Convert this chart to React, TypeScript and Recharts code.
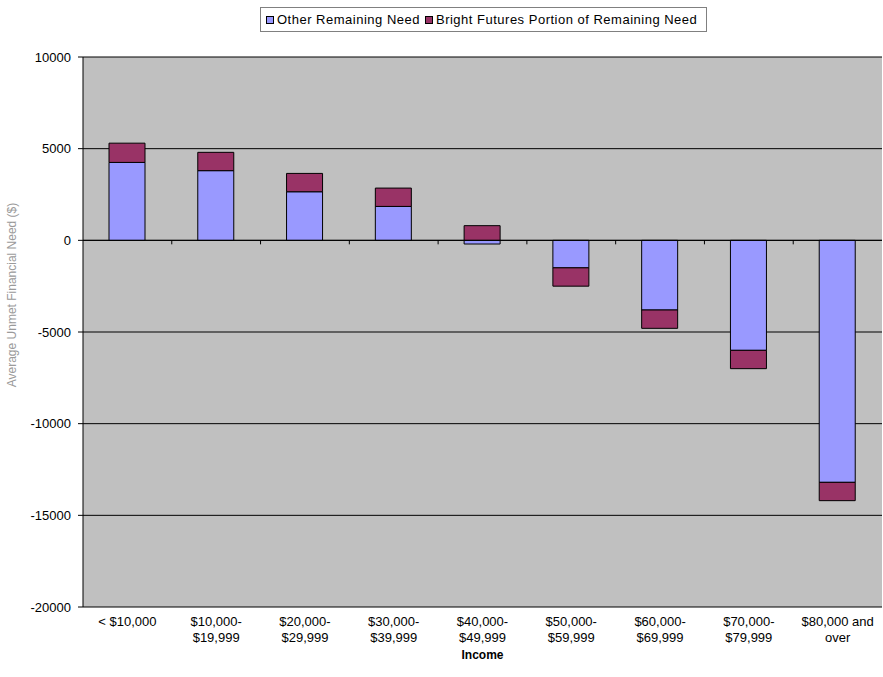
import React from "react";
import {
  BarChart,
  Bar,
  XAxis,
  YAxis,
  CartesianGrid,
  ReferenceLine,
} from "recharts";

const incomeBands = [
  "< $10,000",
  "$10,000-\n$19,999",
  "$20,000-\n$29,999",
  "$30,000-\n$39,999",
  "$40,000-\n$49,999",
  "$50,000-\n$59,999",
  "$60,000-\n$69,999",
  "$70,000-\n$79,999",
  "$80,000 and\nover",
];
const otherNeed = [4250, 3800, 2650, 1850, -200, -1500, -3800, -6000, -13200];
const brightFutures = [1050, 1000, 1000, 1000, 800, -1000, -1000, -1000, -1000];
const yTicks = [-20000, -15000, -10000, -5000, 0, 5000, 10000];

const data = incomeBands.map((band, i) => ({
  band,
  other: otherNeed[i],
  bright: brightFutures[i],
}));

const FONT = "'Liberation Sans', Arial, sans-serif";
const OTHER_COLOR = "#9999FF";
const BRIGHT_COLOR = "#993366";

function IncomeTick({ x, y, payload }: any) {
  const lines = String(payload.value).split("\n");
  return (
    <text x={x} y={y} textAnchor="middle" fontFamily={FONT} fontSize={13} fill="#000">
      {lines.map((ln, i) => (
        <tspan key={i} x={x} dy={i === 0 ? 19 : 16}>
          {ln}
        </tspan>
      ))}
    </text>
  );
}

function LegendBox() {
  const item = (color: string, label: string) => (
    <span style={{ display: "inline-flex", alignItems: "center", marginRight: 5 }}>
      <span
        style={{
          width: 6,
          height: 6,
          background: color,
          border: "1px solid #000",
          marginRight: 3,
          display: "inline-block",
        }}
      />
      {label}
    </span>
  );
  return (
    <div
      style={{
        position: "absolute",
        left: 260,
        top: 7,
        width: 447,
        height: 25,
        border: "1px solid #808080",
        fontFamily: FONT,
        fontSize: 13,
        letterSpacing: 0.5,
        color: "#000",
        padding: "0 0 0 5px",
        boxSizing: "border-box",
        whiteSpace: "nowrap",
        display: "flex",
        alignItems: "center",
        background: "#fff",
      }}
    >
      {item(OTHER_COLOR, "Other Remaining Need")}
      {item(BRIGHT_COLOR, "Bright Futures Portion of Remaining Need")}
    </div>
  );
}

function ZeroAxis(props: any) {
  const { x1, y1, x2 } = props;
  const step = (x2 - x1) / incomeBands.length;
  const marks = [];
  for (let i = 1; i < incomeBands.length; i++) {
    const tx = x1 + step * i;
    marks.push(<line key={i} x1={tx} y1={y1} x2={tx} y2={y1 + 4} stroke="#000" />);
  }
  return (
    <g>
      <line x1={x1} y1={y1} x2={x2} y2={y1} stroke="#000" />
      {marks}
    </g>
  );
}

export default function App() {
  return (
    <div style={{ position: "absolute", left: 0, top: 0, width: 883, height: 677, background: "#fff" }}>
      <BarChart
        width={883}
        height={677}
        data={data}
        stackOffset="sign"
        barSize={36}
        margin={{ top: 57, right: 1, left: 0, bottom: 0 }}
      >
        <CartesianGrid
          vertical={false}
          stroke="#000"
          fill="#C0C0C0"
          fillOpacity={1}
        />
        <XAxis
          dataKey="band"
          height={70}
          axisLine={false}
          tickLine={false}
          tickSize={0}
          tickMargin={0}
          interval={0}
          tick={<IncomeTick />}
          label={({ viewBox }: any) => (
            <text
              x={viewBox.x + viewBox.width / 2}
              y={viewBox.y + 52}
              textAnchor="middle"
              fontFamily={FONT}
              fontSize={12}
              fontWeight="bold"
              fill="#000"
            >
              Income
            </text>
          )}
        />
        <YAxis
          width={83}
          domain={[-20000, 10000]}
          ticks={yTicks}
          interval={0}
          allowDataOverflow
          axisLine={{ stroke: "#000" }}
          tickLine={{ stroke: "#000" }}
          tickSize={5}
          tickMargin={7}
          tick={{ fontFamily: FONT, fontSize: 13, fill: "#000" }}
          label={() => (
            <text
              x={12}
              y={295}
              transform="rotate(-90 12 295)"
              textAnchor="middle"
              dominantBaseline="central"
              fontFamily={FONT}
              fontSize={12}
              fill="#9a9a9a"
            >
              Average Unmet Financial Need ($)
            </text>
          )}
        />
        <Bar
          dataKey="other"
          name="Other Remaining Need"
          stackId="need"
          fill={OTHER_COLOR}
          stroke="#000"
          strokeWidth={1}
          isAnimationActive={false}
        />
        <Bar
          dataKey="bright"
          name="Bright Futures Portion of Remaining Need"
          stackId="need"
          fill={BRIGHT_COLOR}
          stroke="#000"
          strokeWidth={1}
          isAnimationActive={false}
        />
        <ReferenceLine y={0} shape={<ZeroAxis />} />
      </BarChart>
      <LegendBox />
    </div>
  );
}
